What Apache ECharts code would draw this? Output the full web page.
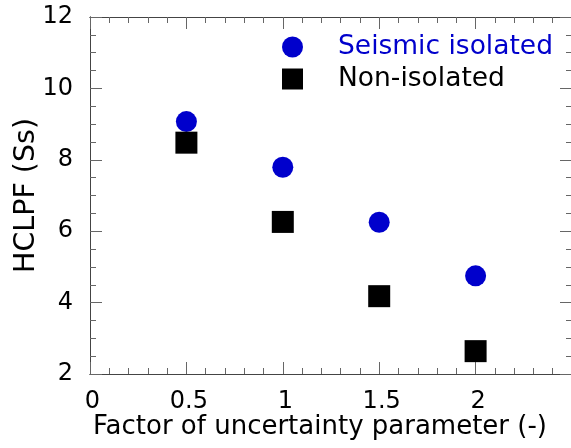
<!DOCTYPE html>
<html>
<head>
<meta charset="utf-8">
<script src="https://cdn.jsdelivr.net/npm/echarts@6/dist/echarts.min.js"></script>
<style>html,body{margin:0;padding:0;background:#fff;}#c{width:571px;height:448px;}</style>
</head>
<body>
<div id="c"></div>
<script>
const factors = [0.5, 1, 1.5, 2];
const seismicIsolated = [9.07, 7.79, 6.25, 4.75];
const nonIsolated = [8.48, 6.26, 4.18, 2.64];
const seriesNames = ['Seismic isolated', 'Non-isolated'];
const xTitle = 'Factor of uncertainty parameter (-)';
const yTitle = 'HCLPF (Ss)';

const FONT = 'DejaVu Sans';
const BLUE = '#0000CC';
const LINE = '#444444';
const TICK = '#666666';

const chart = echarts.init(document.getElementById('c'), null, {renderer: 'canvas'});

function xAx(pos, interval, len, extra) {
  return Object.assign({
    type: 'value', min: 0, max: 2.5, interval: interval, position: pos,
    axisLine: {show: true, onZero: false, lineStyle: {color: LINE, width: 1}},
    axisTick: {show: true, inside: true, length: len, lineStyle: {color: TICK}},
    axisLabel: {show: false},
    splitLine: {show: false}
  }, extra || {});
}
function yAx(pos, interval, len, extra) {
  return Object.assign({
    type: 'value', min: 2, max: 12, interval: interval, position: pos,
    axisLine: {show: true, onZero: false, lineStyle: {color: LINE, width: 1}},
    axisTick: {show: true, inside: true, length: len, lineStyle: {color: TICK}},
    axisLabel: {show: false},
    splitLine: {show: false}
  }, extra || {});
}

chart.setOption({
  animation: false,
  backgroundColor: '#ffffff',
  grid: {left: 90, top: 17, width: 482, height: 357, outerBoundsMode: 'none', containLabel: false},
  legend: {
    orient: 'vertical', left: 277, top: 27, itemWidth: 21, itemHeight: 21, itemGap: 2,
    textStyle: {fontFamily: FONT, fontSize: 26.5, lineHeight: 30, padding: [0, 0, 0, 30]},
    data: [
      {name: seriesNames[0], textStyle: {color: BLUE}},
      {name: seriesNames[1], textStyle: {color: '#000'}}
    ]
  },
  xAxis: [
    xAx('bottom', 0.5, 12, {
      name: xTitle, nameLocation: 'middle', nameGap: 40, nameMoveOverlap: false,
      nameTextStyle: {fontFamily: FONT, fontSize: 26, color: '#000', padding: [0, 22, 0, 0]},
      axisLabel: {show: true, fontFamily: FONT, fontSize: 24, color: '#000', margin: 16, showMaxLabel: false,
        padding: [0, 0, 0, 5],
        formatter: v => (v >= 2.5 ? '' : String(v))}
    }),
    xAx('bottom', 0.1, 6),
    xAx('top', 0.5, 12),
    xAx('top', 0.1, 6)
  ],
  yAxis: [
    yAx('left', 2, 12, {
      name: yTitle, nameLocation: 'middle', nameGap: 49, nameMoveOverlap: false,
      nameTextStyle: {fontFamily: FONT, fontSize: 28.5, color: '#000'},
      axisLabel: {show: true, fontFamily: FONT, fontSize: 24, color: '#000', margin: 17}
    }),
    yAx('left', 0.5, 6),
    yAx('right', 2, 12),
    yAx('right', 0.5, 6)
  ],
  series: [
    {
      name: seriesNames[0], type: 'scatter', symbol: 'circle', symbolSize: 21,
      xAxisIndex: 0, yAxisIndex: 0,
      itemStyle: {color: BLUE, opacity: 1},
      data: factors.map((x, i) => [x, seismicIsolated[i]])
    },
    {
      name: seriesNames[1], type: 'scatter', symbol: 'rect', symbolSize: 22,
      xAxisIndex: 0, yAxisIndex: 0,
      itemStyle: {color: '#000000', opacity: 1},
      data: factors.map((x, i) => [x, nonIsolated[i]])
    }
  ]
});
</script>
</body>
</html>
